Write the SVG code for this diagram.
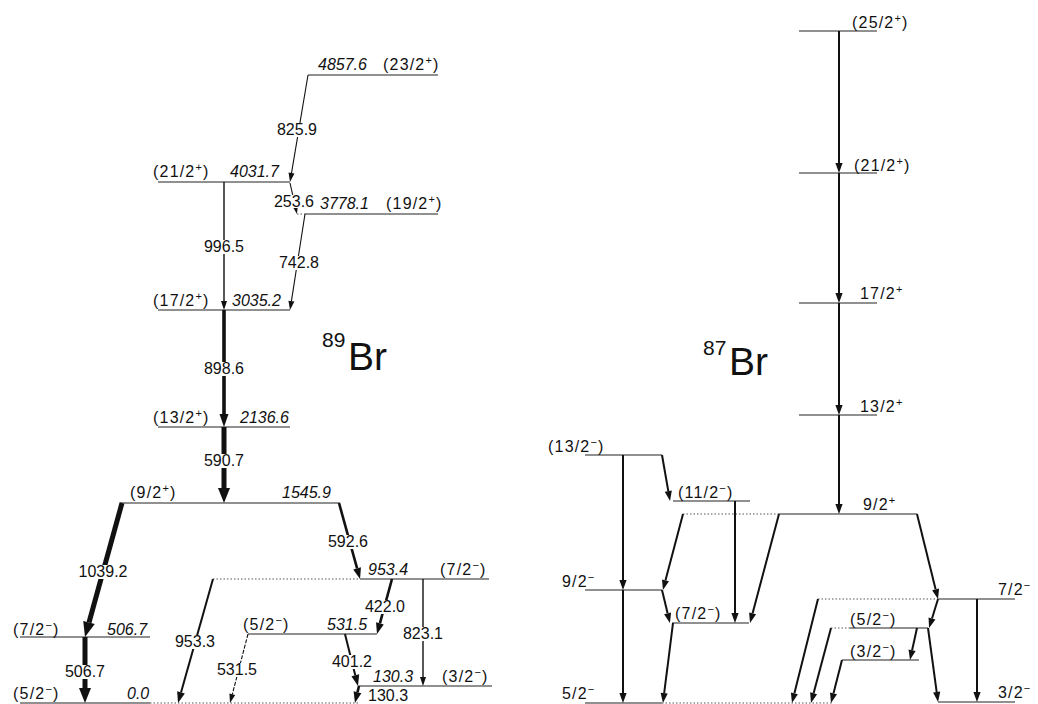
<svg xmlns="http://www.w3.org/2000/svg" width="1038" height="704" viewBox="0 0 1038 704">
<style>
text{font-family:"Liberation Sans",Arial,sans-serif;font-size:16px;fill:#111}
.e{font-style:italic}
.sp{letter-spacing:1.2px}
.sup{font-size:11px}
.c{text-anchor:middle}
.lv{stroke:#222;stroke-width:1.2;fill:none}
.dt{stroke:#555;stroke-width:1;stroke-dasharray:1.5 2;fill:none}
.g{stroke:#111;fill:none}
.w1{stroke-width:1.1}
.w13{stroke-width:1.4}
.w2{stroke-width:2}
.w25{stroke-width:2.6}
.w35{stroke-width:3.6}
.w5{stroke-width:5}
.bg{fill:#fff}
.big{font-size:39px}
.nuc{font-size:21px}
</style>
<defs>
<marker id="hs" markerUnits="userSpaceOnUse" orient="auto" overflow="visible" markerWidth="10" markerHeight="8" refX="0" refY="0"><path d="M0,-3 L9,0 L0,3 z" fill="#111"/></marker>
<marker id="hm" markerUnits="userSpaceOnUse" orient="auto" overflow="visible" markerWidth="12" markerHeight="10" refX="0" refY="0"><path d="M0,-4 L11,0 L0,4 z" fill="#111"/></marker>
<marker id="hr" markerUnits="userSpaceOnUse" orient="auto" overflow="visible" markerWidth="11" markerHeight="8" refX="0" refY="0"><path d="M0,-3.6 L10,0 L0,3.6 z" fill="#111"/></marker>
<marker id="hml" markerUnits="userSpaceOnUse" orient="auto" overflow="visible" markerWidth="14" markerHeight="10" refX="0" refY="0"><path d="M0,-4.5 L13,0 L0,4.5 z" fill="#111"/></marker>
<marker id="hl" markerUnits="userSpaceOnUse" orient="auto" overflow="visible" markerWidth="16" markerHeight="13" refX="0" refY="0"><path d="M0,-6 L15,0 L0,6 z" fill="#111"/></marker>
</defs>

<!-- 89Br levels -->
<g id="br89-4857">
<line class="lv" x1="308" y1="75" x2="438" y2="75"/>
<text class="e" x="318" y="70">4857.6</text>
<text class="sp" x="383" y="70">(23/2<tspan class="sup" dy="-6">+</tspan><tspan dy="6">)</tspan></text>
</g>
<g id="br89-4031">
<line class="lv" x1="158" y1="182" x2="290" y2="182"/>
<text class="sp" x="153" y="177">(21/2<tspan class="sup" dy="-6">+</tspan><tspan dy="6">)</tspan></text>
<text class="e" x="230" y="177">4031.7</text>
</g>
<g id="br89-3778">
<line class="dt" x1="297" y1="214" x2="305" y2="214"/>
<line class="lv" x1="305" y1="214" x2="438" y2="214"/>
<text class="e" x="320" y="209">3778.1</text>
<text class="sp" x="386" y="209">(19/2<tspan class="sup" dy="-6">+</tspan><tspan dy="6">)</tspan></text>
</g>
<g id="br89-3035">
<line class="lv" x1="158" y1="310" x2="290" y2="310"/>
<text class="sp" x="153" y="306">(17/2<tspan class="sup" dy="-6">+</tspan><tspan dy="6">)</tspan></text>
<text class="e" x="232" y="306">3035.2</text>
</g>
<g id="br89-2136">
<line class="lv" x1="158" y1="427" x2="290" y2="427"/>
<text class="sp" x="153" y="423">(13/2<tspan class="sup" dy="-6">+</tspan><tspan dy="6">)</tspan></text>
<text class="e" x="240" y="423">2136.6</text>
</g>
<g id="br89-1545">
<line class="lv" x1="120" y1="503" x2="340" y2="503"/>
<text class="sp" x="130" y="498">(9/2<tspan class="sup" dy="-6">+</tspan><tspan dy="6">)</tspan></text>
<text class="e" x="282" y="498">1545.9</text>
</g>
<g id="br89-953">
<line class="dt" x1="213" y1="579" x2="360" y2="579"/>
<line class="lv" x1="360" y1="579" x2="489" y2="579"/>
<text class="e" x="368" y="575">953.4</text>
<text class="sp" x="440" y="575">(7/2<tspan class="sup" dy="-6">−</tspan><tspan dy="6">)</tspan></text>
</g>
<g id="br89-531">
<line class="lv" x1="248" y1="634" x2="377" y2="634"/>
<text class="sp" x="243" y="630">(5/2<tspan class="sup" dy="-6">−</tspan><tspan dy="6">)</tspan></text>
<text class="e" x="327" y="630">531.5</text>
</g>
<g id="br89-506">
<line class="lv" x1="20" y1="637" x2="150" y2="637"/>
<text class="sp" x="13" y="635">(7/2<tspan class="sup" dy="-6">−</tspan><tspan dy="6">)</tspan></text>
<text class="e" x="107" y="635">506.7</text>
</g>
<g id="br89-130">
<line class="lv" x1="358" y1="686" x2="492" y2="686"/>
<text class="e" x="373" y="682">130.3</text>
<text class="sp" x="442" y="682">(3/2<tspan class="sup" dy="-6">−</tspan><tspan dy="6">)</tspan></text>
</g>
<g id="br89-0">
<line class="lv" x1="20" y1="703" x2="150" y2="703"/>
<line class="dt" x1="150" y1="703" x2="358" y2="703"/>
<text class="sp" x="13" y="699">(5/2<tspan class="sup" dy="-6">−</tspan><tspan dy="6">)</tspan></text>
<text class="e" x="127" y="699">0.0</text>
</g>
<g id="br89-name">
<text class="nuc" x="322" y="347">89</text>
<text class="big" x="348" y="370">Br</text>
</g>

<!-- 87Br levels -->
<g id="br87-25">
<line class="lv" x1="799" y1="31" x2="877" y2="31"/>
<text class="sp" x="852" y="28">(25/2<tspan class="sup" dy="-6">+</tspan><tspan dy="6">)</tspan></text>
</g>
<g id="br87-21">
<line class="lv" x1="799" y1="173" x2="877" y2="173"/>
<text class="sp" x="854" y="171">(21/2<tspan class="sup" dy="-6">+</tspan><tspan dy="6">)</tspan></text>
</g>
<g id="br87-17">
<line class="lv" x1="799" y1="303" x2="877" y2="303"/>
<text class="sp" x="860" y="299">17/2<tspan class="sup" dy="-6">+</tspan></text>
</g>
<g id="br87-13p">
<line class="lv" x1="799" y1="415" x2="877" y2="415"/>
<text class="sp" x="860" y="412">13/2<tspan class="sup" dy="-6">+</tspan></text>
</g>
<g id="br87-9p">
<line class="dt" x1="683" y1="514" x2="779" y2="514"/>
<line class="lv" x1="779" y1="514" x2="917" y2="514"/>
<text class="sp" x="863" y="510">9/2<tspan class="sup" dy="-6">+</tspan></text>
</g>
<g id="br87-13m">
<line class="lv" x1="585" y1="455" x2="662" y2="455"/>
<text class="sp" x="548" y="452">(13/2<tspan class="sup" dy="-6">−</tspan><tspan dy="6">)</tspan></text>
</g>
<g id="br87-11m">
<line class="lv" x1="673" y1="501" x2="750" y2="501"/>
<text class="sp" x="678" y="498">(11/2<tspan class="sup" dy="-6">−</tspan><tspan dy="6">)</tspan></text>
</g>
<g id="br87-9m">
<line class="lv" x1="585" y1="590" x2="662" y2="590"/>
<text class="sp" x="562" y="587">9/2<tspan class="sup" dy="-6">−</tspan></text>
</g>
<g id="br87-7m-a">
<line class="lv" x1="672" y1="623" x2="749" y2="623"/>
<text class="sp" x="675" y="619">(7/2<tspan class="sup" dy="-6">−</tspan><tspan dy="6">)</tspan></text>
</g>
<g id="br87-5m-gs">
<line class="lv" x1="585" y1="703" x2="662" y2="703"/>
<line class="dt" x1="662" y1="703" x2="832" y2="703"/>
<text class="sp" x="562" y="699">5/2<tspan class="sup" dy="-6">−</tspan></text>
</g>
<g id="br87-7m">
<line class="dt" x1="818" y1="599" x2="938" y2="599"/>
<line class="lv" x1="938" y1="599" x2="1015" y2="599"/>
<text class="sp" x="998" y="595">7/2<tspan class="sup" dy="-6">−</tspan></text>
</g>
<g id="br87-5m">
<line class="dt" x1="831" y1="628" x2="850" y2="628"/>
<line class="lv" x1="850" y1="628" x2="928" y2="628"/>
<text class="sp" x="850" y="625">(5/2<tspan class="sup" dy="-6">−</tspan><tspan dy="6">)</tspan></text>
</g>
<g id="br87-3m-a">
<line class="lv" x1="842" y1="660" x2="919" y2="660"/>
<text class="sp" x="850" y="657">(3/2<tspan class="sup" dy="-6">−</tspan><tspan dy="6">)</tspan></text>
</g>
<g id="br87-3m">
<line class="lv" x1="938" y1="702" x2="1015" y2="702"/>
<text class="sp" x="998" y="698">3/2<tspan class="sup" dy="-6">−</tspan></text>
</g>
<g id="br87-name">
<text class="nuc" x="703" y="355">87</text>
<text class="big" x="729" y="375">Br</text>
</g>

<!-- connectors -->
<g id="connectors">
<!-- 89Br -->
<line class="g w1" x1="308" y1="75" x2="291.5" y2="173.1" marker-end="url(#hs)"/>
<line class="g w1" x1="290" y1="183" x2="295" y2="205.2" marker-end="url(#hs)"/>
<line class="g w1" x1="305" y1="214" x2="291.4" y2="301.1" marker-end="url(#hs)"/>
<line class="g w13" x1="224" y1="182" x2="224" y2="301" marker-end="url(#hs)"/>
<line class="g w35" x1="224" y1="310" x2="224" y2="414" marker-end="url(#hml)"/>
<line class="g w5" x1="224" y1="427" x2="224" y2="488" marker-end="url(#hl)"/>
<line class="g w5" x1="122" y1="503" x2="89" y2="622.5" marker-end="url(#hl)"/>
<line class="g w5" x1="85" y1="637" x2="85" y2="688" marker-end="url(#hl)"/>
<line class="g w25" x1="339" y1="503" x2="357.1" y2="568.4" marker-end="url(#hm)"/>
<line class="g w2" x1="213" y1="579" x2="181" y2="692.4" marker-end="url(#hm)"/>
<line class="g w1" x1="248" y1="634" x2="232.3" y2="694.3" stroke-dasharray="4 1.5" marker-end="url(#hs)"/>
<line class="g w25" x1="392" y1="579" x2="379.9" y2="623.4" marker-end="url(#hm)"/>
<line class="g w2" x1="345" y1="634" x2="355.3" y2="675.3" marker-end="url(#hm)"/>
<line class="g w13" x1="423" y1="579" x2="423" y2="677" marker-end="url(#hs)"/>
<line class="g w25" x1="359" y1="686" x2="357.5" y2="692.3" marker-end="url(#hm)"/>
<!-- 87Br -->
<line class="g w2" x1="839" y1="31" x2="839" y2="163" marker-end="url(#hr)"/>
<line class="g w2" x1="839" y1="173" x2="839" y2="293" marker-end="url(#hr)"/>
<line class="g w2" x1="839" y1="303" x2="839" y2="405" marker-end="url(#hr)"/>
<line class="g w2" x1="839" y1="415" x2="839" y2="504" marker-end="url(#hr)"/>
<line class="g w2" x1="623" y1="455" x2="623" y2="580" marker-end="url(#hr)"/>
<line class="g w2" x1="623" y1="590" x2="623" y2="693" marker-end="url(#hr)"/>
<line class="g w2" x1="662" y1="455" x2="668.3" y2="491.2" marker-end="url(#hr)"/>
<line class="g w2" x1="662" y1="590" x2="667.6" y2="613.3" marker-end="url(#hr)"/>
<line class="g w2" x1="673" y1="623" x2="664.2" y2="693.1" marker-end="url(#hr)"/>
<line class="g w2" x1="735" y1="501" x2="735" y2="613" marker-end="url(#hr)"/>
<line class="g w2" x1="683" y1="514" x2="665.5" y2="580.3" marker-end="url(#hr)"/>
<line class="g w2" x1="779" y1="514" x2="752.6" y2="613.3" marker-end="url(#hr)"/>
<line class="g w2" x1="917" y1="514" x2="935.6" y2="589.3" marker-end="url(#hr)"/>
<line class="g w2" x1="938" y1="599" x2="932" y2="618.5" marker-end="url(#hr)"/>
<line class="g w2" x1="928" y1="628" x2="936.7" y2="692.1" marker-end="url(#hr)"/>
<line class="g w2" x1="917" y1="628" x2="912.1" y2="650.2" marker-end="url(#hr)"/>
<line class="g w2" x1="818" y1="599" x2="794.4" y2="693.3" marker-end="url(#hr)"/>
<line class="g w2" x1="831" y1="628" x2="813.6" y2="693.3" marker-end="url(#hr)"/>
<line class="g w2" x1="842" y1="660" x2="833.5" y2="693.3" marker-end="url(#hr)"/>
<line class="g w2" x1="977" y1="599" x2="977" y2="692" marker-end="url(#hr)"/>
</g>

<!-- transition energy labels -->
<g id="gamma-labels">
<rect class="bg" x="276" y="123" width="42" height="14"/><text class="c" x="297" y="135">825.9</text>
<rect class="bg" x="273" y="195" width="42" height="13"/><text class="c" x="294" y="207">253.6</text>
<rect class="bg" x="278" y="256" width="42" height="14"/><text class="c" x="299" y="268">742.8</text>
<rect class="bg" x="203" y="240" width="42" height="14"/><text class="c" x="224" y="252">996.5</text>
<rect class="bg" x="203" y="362" width="42" height="14"/><text class="c" x="224" y="374">898.6</text>
<rect class="bg" x="203" y="454" width="42" height="14"/><text class="c" x="224" y="466">590.7</text>
<rect class="bg" x="77" y="565" width="52" height="14"/><text class="c" x="103" y="577">1039.2</text>
<rect class="bg" x="64" y="665" width="42" height="14"/><text class="c" x="85" y="677">506.7</text>
<rect class="bg" x="327" y="535" width="42" height="14"/><text class="c" x="348" y="547">592.6</text>
<rect class="bg" x="174" y="635" width="42" height="14"/><text class="c" x="195" y="647">953.3</text>
<rect class="bg" x="216" y="663" width="42" height="14"/><text class="c" x="237" y="675">531.5</text>
<rect class="bg" x="364" y="600" width="42" height="14"/><text class="c" x="385" y="612">422.0</text>
<rect class="bg" x="331" y="655" width="42" height="14"/><text class="c" x="352" y="667">401.2</text>
<rect class="bg" x="402" y="627" width="42" height="14"/><text class="c" x="423" y="639">823.1</text>
<text x="368" y="701">130.3</text>
</g>
</svg>
